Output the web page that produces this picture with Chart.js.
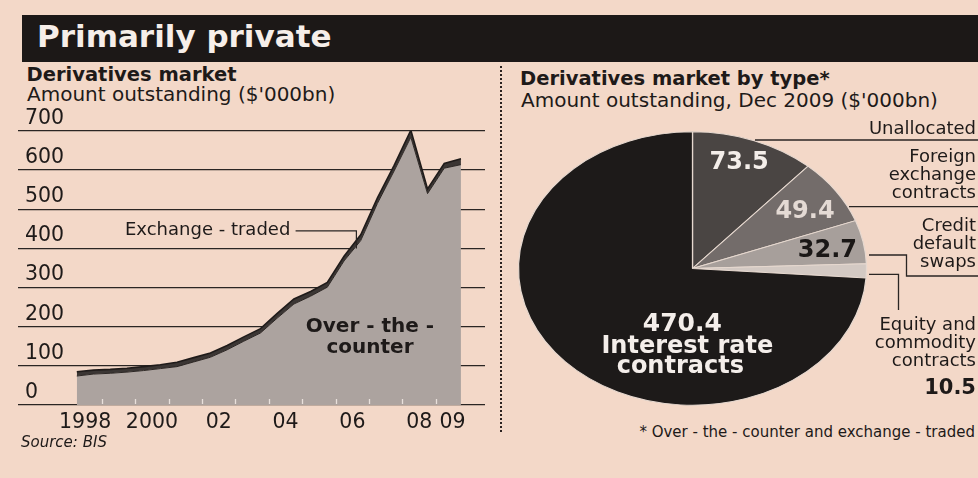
<!DOCTYPE html>
<html>
<head>
<meta charset="utf-8">
<title>Primarily private</title>
<script src="https://cdn.jsdelivr.net/npm/chart.js@4.4.1/dist/chart.umd.min.js"></script>
<style>
  html, body { margin: 0; padding: 0; }
  body {
    width: 978px; height: 478px; position: relative; overflow: hidden;
    background: #f3d8c8; color: #1e1a19;
    font-family: "DejaVu Sans", sans-serif;
  }
  .abs { position: absolute; white-space: nowrap; }
  #titlebar { left: 22px; top: 15px; width: 956px; height: 47px; background: #1c1817; }
  #title { left: 37px; top: 20.8px; font-size: 31px; line-height: 31px; font-weight: bold; color: #f6eee9; }
  .head { font-size: 19.5px; line-height: 19.5px; font-weight: bold; }
  .sub { font-size: 20px; line-height: 20px; }
  .lbl { font-size: 18px; line-height: 18px; text-align: right; right: 2px; }
  #divider { left: 500px; top: 66px; height: 366px; border-left: 2px dotted #2a2220; }
  #lineWrap { left: 0; top: 100px; width: 495px; height: 335px; }
  #pieWrap { left: 505px; top: 118px; width: 473px; height: 300px; }
</style>
</head>
<body>
<div class="abs" id="titlebar"></div>
<div class="abs" id="title">Primarily private</div>

<div class="abs head" style="left:26.5px; top:64.5px;">Derivatives market</div>
<div class="abs sub" style="left:27px; top:84px;">Amount outstanding ($'000bn)</div>

<div class="abs head" style="left:520px; top:68.5px;">Derivatives market by type*</div>
<div class="abs sub" style="left:521px; top:90px;">Amount outstanding, Dec 2009 ($'000bn)</div>

<div class="abs" id="divider"></div>

<div class="abs" id="lineWrap"><canvas id="lineChart" width="495" height="335"></canvas></div>
<div class="abs" id="pieWrap"><canvas id="pieChart" width="473" height="300"></canvas></div>

<div class="abs" style="left:125px; top:219.8px; font-size:18px; line-height:18px;">Exchange - traded</div>
<div class="abs" style="left:270px; top:314.6px; width:200px; text-align:center; font-size:20px; line-height:21px; font-weight:bold;">Over - the -<br>counter</div>
<div class="abs" style="left:21px; top:434.8px; font-size:15px; line-height:15px; font-style:italic;">Source: BIS</div>

<div class="abs lbl" style="top:118.8px;">Unallocated</div>
<div class="abs lbl" style="top:146.5px;">Foreign<br>exchange<br>contracts</div>
<div class="abs lbl" style="top:215.5px;">Credit<br>default<br>swaps</div>
<div class="abs lbl" style="top:314.8px;">Equity and<br>commodity<br>contracts</div>
<div class="abs" id="equityValue" style="right:2px; top:377.2px; font-size:21px; line-height:21px; font-weight:bold;"></div>
<div class="abs" style="right:3px; top:425.3px; font-size:15px; line-height:15px;">* Over - the - counter and exchange - traded</div>

<script>
// ---- Derivatives market, amount outstanding ($'000bn), half-yearly ----
const periods = [
  'Jun 1998', 'Dec 1998', 'Jun 1999', 'Dec 1999', 'Jun 2000', 'Dec 2000',
  'Jun 2001', 'Dec 2001', 'Jun 2002', 'Dec 2002', 'Jun 2003', 'Dec 2003',
  'Jun 2004', 'Dec 2004', 'Jun 2005', 'Dec 2005', 'Jun 2006', 'Dec 2006',
  'Jun 2007', 'Dec 2007', 'Jun 2008', 'Dec 2008', 'Jun 2009', 'Dec 2009'
];
const overTheCounter = [
  74, 79, 81, 84, 88, 93,
  98, 110, 122, 141, 163, 184,
  222, 258, 278, 301, 368, 420,
  515, 598, 684, 540, 605, 614
];
const exchangeTraded = [
  11, 10, 10, 10, 10, 10,
  11, 11, 11, 11, 11, 11,
  12, 13, 12, 12, 12, 15,
  14, 14, 18, 12, 12, 15
];
const yearTicks = [1998, 2000, 2002, 2004, 2006, 2008, 2009];
const yearTickLabels = ['1998', '2000', '02', '04', '06', '08', '09'];
const valueTicks = [0, 100, 200, 300, 400, 500, 600, 700];

// ---- Derivatives market by type, Dec 2009 ($'000bn) ----
const typeNames = ['Unallocated', 'Foreign exchange contracts', 'Credit default swaps',
                   'Equity and commodity contracts', 'Interest rate contracts'];
const typeValues = [73.5, 49.4, 32.7, 10.5, 470.4];

Chart.defaults.font.family = '"DejaVu Sans", sans-serif';
Chart.defaults.color = '#1e1a19';

const INK = '#2a2523';

// half-year periods sit at the middle of their half
function periodToYear(p) {
  const [mon, yr] = p.split(' ');
  return Number(yr) + (mon === 'Jun' ? 0.25 : 0.75);
}
const xs = periods.map(periodToYear);
const otcPoints = xs.map((x, i) => ({ x, y: overTheCounter[i] }));
const exchPoints = xs.map((x, i) => ({ x, y: exchangeTraded[i] }));

// light year marks along the base of the area and the label leader
const lineExtras = {
  id: 'lineExtras',
  afterDatasetsDraw(chart) {
    const { ctx, scales: { x, y } } = chart;
    const base = y.getPixelForValue(0);
    ctx.save();
    ctx.strokeStyle = '#e9e1dc';
    ctx.lineWidth = 1.3;
    for (let yr = 1999; yr <= 2009; yr++) {
      const px = Math.round(x.getPixelForValue(yr)) + 0.5;
      ctx.beginPath();
      ctx.moveTo(px, base - 6);
      ctx.lineTo(px, base - 1);
      ctx.stroke();
    }
    // leader from the "Exchange - traded" label down to the band
    ctx.strokeStyle = INK;
    ctx.lineWidth = 1.2;
    ctx.beginPath();
    ctx.moveTo(x.getPixelForValue(2004.8), y.getPixelForValue(445));
    ctx.lineTo(x.getPixelForValue(2006.62), y.getPixelForValue(445));
    ctx.lineTo(x.getPixelForValue(2006.62), y.getPixelForValue(400));
    ctx.stroke();
    ctx.restore();
  }
};

new Chart(document.getElementById('lineChart'), {
  type: 'line',
  data: {
    datasets: [
      {
        label: 'Over-the-counter',
        data: otcPoints,
        fill: 'origin',
        backgroundColor: '#aca39f',
        borderColor: '#2b2624',
        borderWidth: 1,
        pointRadius: 0,
        tension: 0
      },
      {
        label: 'Exchange-traded',
        data: exchPoints,
        fill: '-1',
        backgroundColor: '#3b3634',
        borderColor: '#1f1b1a',
        borderWidth: 1.6,
        pointRadius: 0,
        tension: 0
      }
    ]
  },
  options: {
    responsive: false,
    animation: false,
    devicePixelRatio: 1,
    layout: { padding: { left: 18, right: 10, top: 31, bottom: 0 } },
    plugins: { legend: { display: false }, tooltip: { enabled: false } },
    scales: {
      x: {
        type: 'linear',
        min: 1996.49,
        max: 2010.47,
        grid: { display: false },
        border: { display: false },
        afterBuildTicks: s => { s.ticks = yearTicks.map(v => ({ value: v + 0.5 })); },
        afterFit: s => { s.height = 30; },
        ticks: {
          autoSkip: false,
          maxRotation: 0,
          padding: -1,
          font: { size: 20.5, lineHeight: 1 },
          color: '#1e1a19',
          callback: (v, i) => yearTickLabels[i]
        }
      },
      y: {
        stacked: true,
        min: 0,
        max: 700,
        afterBuildTicks: s => { s.ticks = valueTicks.map(v => ({ value: v })); },
        afterFit: s => { s.width = 0; },
        grid: { color: INK, lineWidth: 1.3, drawTicks: false },
        border: { display: false },
        ticks: {
          mirror: true,
          padding: 7,
          labelOffset: -12.5,
          font: { size: 20.5 },
          color: '#1e1a19'
        }
      }
    }
  },
  plugins: [lineExtras]
});

// ---- pie, drawn squashed into an ellipse ----
const SX = 1.273;          // horizontal stretch of the pie
const PIE_R = 136.7;       // vertical radius
const pieColours = ['#4a4543', '#736c6a', '#a79f9b', '#d3c9c3', '#1d1a19'];

const ellipse = {
  id: 'ellipse',
  beforeDatasetsDraw(chart) {
    const a = chart.getDatasetMeta(0).data[0];
    const ctx = chart.ctx;
    ctx.save();
    ctx.translate(a.x, a.y);
    ctx.scale(SX, 1);
    ctx.translate(-a.x, -a.y);
  },
  afterDatasetsDraw(chart) { chart.ctx.restore(); }
};

const fmt = v => v.toFixed(1);

const pieText = {
  id: 'pieText',
  afterDraw(chart) {
    const ctx = chart.ctx;
    const arcs = chart.getDatasetMeta(0).data;
    const at = (arc, frac) => {
      const mid = (arc.startAngle + arc.endAngle) / 2;
      const r = arc.outerRadius * frac;
      return [arc.x + SX * r * Math.cos(mid), arc.y + r * Math.sin(mid)];
    };
    ctx.save();
    ctx.textAlign = 'center';
    ctx.textBaseline = 'middle';
    ctx.font = 'bold 24px "DejaVu Sans"';

    let p = at(arcs[0], 0.82);
    ctx.fillStyle = '#f4eeea';
    ctx.fillText(fmt(typeValues[0]), p[0] - 4, p[1] - 1);

    p = at(arcs[1], 0.77);
    ctx.fillStyle = '#e4dad4';
    ctx.fillText(fmt(typeValues[1]), p[0] + 2, p[1] + 3);

    p = at(arcs[2], 0.79);
    ctx.fillStyle = '#1a1716';
    ctx.fillText(fmt(typeValues[2]), p[0], p[1] + 3);

    // interest-rate block sits low in the big slice
    const c = arcs[4];
    const bx = c.x - 0.06 * c.outerRadius;
    const by = c.y + 0.41 * c.outerRadius;
    ctx.fillStyle = '#f4eeea';
    ctx.font = 'bold 25px "DejaVu Sans"';
    ctx.fillText(fmt(typeValues[4]), bx - 2, by);
    ctx.font = 'bold 24px "DejaVu Sans"';
    ctx.fillText('Interest rate', bx + 3, by + 22);
    ctx.fillText('contracts', bx - 4, by + 42);

    // leader lines to the labels on the right (page position minus canvas offset)
    const ox = 505, oy = 118;
    const leaders = [
      [[755, 140], [978, 140]],
      [[849, 206.7], [978, 206.7]],
      [[869, 255], [906.5, 255], [906.5, 276], [978, 276]],
      [[869, 274.3], [898.5, 274.3], [898.5, 310]]
    ];
    ctx.strokeStyle = INK;
    ctx.lineWidth = 1.3;
    leaders.forEach(path => {
      ctx.beginPath();
      path.forEach(([px, py], i) => {
        if (i === 0) ctx.moveTo(px - ox, py - oy); else ctx.lineTo(px - ox, py - oy);
      });
      ctx.stroke();
    });
    ctx.restore();
  }
};

new Chart(document.getElementById('pieChart'), {
  type: 'pie',
  data: {
    labels: typeNames,
    datasets: [{
      data: typeValues,
      backgroundColor: pieColours,
      borderColor: '#e6d8cf',
      borderWidth: 1,
      hoverOffset: 0,
      clip: false
    }]
  },
  options: {
    responsive: false,
    animation: false,
    devicePixelRatio: 1,
    radius: PIE_R,
    layout: { padding: { left: 51, right: 149, top: 14, bottom: 13 } },
    plugins: { legend: { display: false }, tooltip: { enabled: false } }
  },
  plugins: [ellipse, pieText]
});

document.getElementById('equityValue').textContent = fmt(typeValues[3]);
</script>
</body>
</html>
